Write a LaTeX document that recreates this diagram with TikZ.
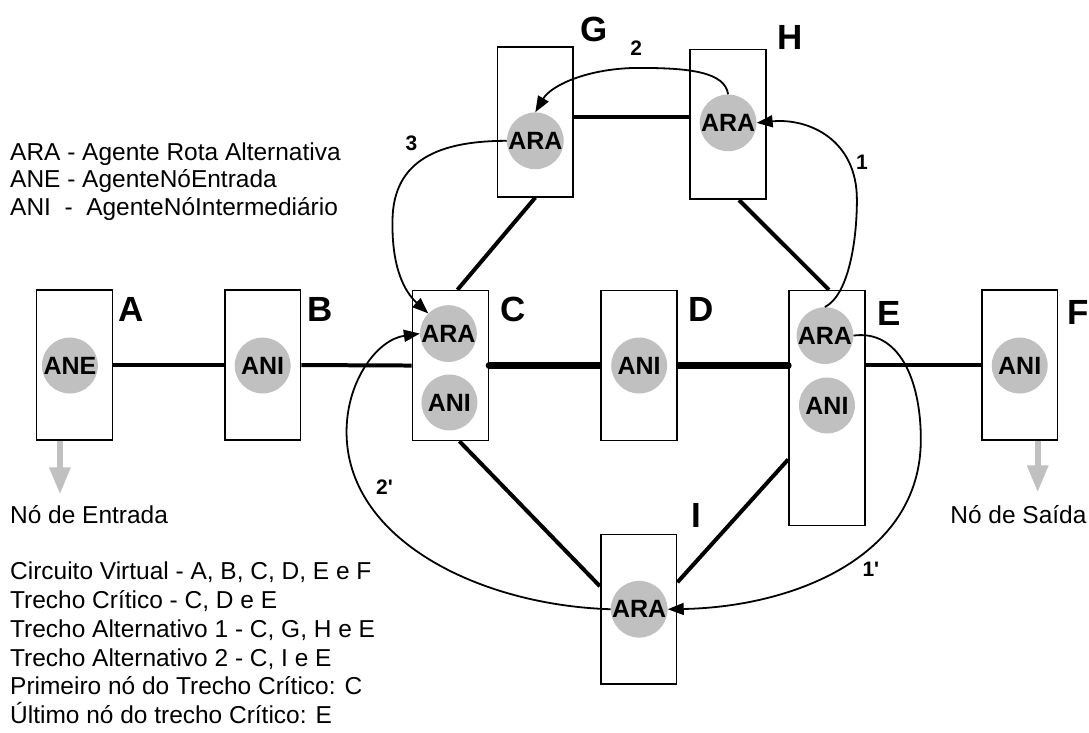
\documentclass[tikz,border=0pt]{standalone}
\usepackage{fontspec}
\setmainfont{Liberation Sans}
\usetikzlibrary{positioning,arrows.meta}
\definecolor{agentgray}{RGB}{192,192,192}

\begin{document}
\begin{tikzpicture}[x=1pt, y=-1pt,
  nodebox/.style={draw, line width=1.6pt, fill=white, minimum width=76pt, minimum height=150pt, inner sep=0pt},
  agent/.style={circle, fill=agentgray, minimum size=56pt, inner sep=0pt, font=\bfseries\fontsize{25}{25}\selectfont},
  letter/.style={font=\bfseries\fontsize{35}{35}\selectfont, inner sep=0pt, anchor=north west},
  link/.style={line width=4pt},
  critical/.style={line width=7pt, line cap=round},
  msg/.style={-{Triangle[length=16pt,width=12pt]}, line width=1.8pt},
  stepnum/.style={font=\bfseries\fontsize{21}{21}\selectfont, inner sep=0pt},
  note/.style={font=\fontsize{24.5}{28.5}\selectfont, inner sep=0pt, anchor=base west},
  exit/.style={-{Triangle[length=27pt,width=20pt]}, line width=6pt, draw=agentgray}
]
\fill[white] (0,0) rectangle (1089,733);

% routers of the virtual circuit
\node[nodebox] (A) at (74.5,365.5) {};
\node[nodebox] (B) at (263,365.5) {};
\node[nodebox] (C) at (451,366) {};
\node[nodebox, minimum height=235pt] (E) at (828,408.5) {};
\node[nodebox] (F) at (1021,365.5) {};
% routers of the alternative routes
\node[nodebox] (G) at (536,122) {};
\node[nodebox] (H) at (729,124.5) {};
\node[nodebox] (I) at (639.5,610) {};

% links
\draw[link] (A.east) -- (B.west);
\draw[link] (B.east) -- (C.west);
\draw[link] (E.east |- F.west) -- (F.west);
\draw[link] ([yshift=5pt]G.east) -- ([yshift=5pt]G.east -| H.west);
\draw[link] (G.south) -- ([xshift=7pt]C.north);
\draw[link] ([xshift=11pt]H.south) -- ([xshift=2pt]E.north);
\draw[link] ([xshift=9pt]C.south) -- ([yshift=23pt]I.west);
\draw[link] ([yshift=-51.5pt]E.west) -- ([yshift=27pt]I.east);
% critical stretch C - D - E
\draw[critical] (C.east) -- (C.east -| E.west);
\node[nodebox] (D) at (640,366) {};

% agents
\node[agent] (aneA) at (70,366) {ANE};
\node[agent] (aniB) at (263,366) {ANI};
\node[agent] (araC) at (449,334) {ARA};
\node[agent] (aniC) at (450,403) {ANI};
\node[agent] (aniD) at (640,366) {ANI};
\node[agent] (araE) at (826,336) {ARA};
\node[agent] (aniE) at (828,406) {ANI};
\node[agent] (aniF) at (1021,366) {ANI};
\node[agent] (araG) at (536,141) {ARA};
\node[agent] (araH) at (729,123) {ARA};
\node[agent] (araI) at (640,610) {ARA};

% router names
\node[right=5pt of A.north east, letter, yshift=-8pt] (labA) {A};
\node[right=6pt of B.north east, letter, yshift=-8pt] (labB) {B};
\node[right=11pt of C.north east, letter, yshift=-7pt] (labC) {C};
\node[right=10pt of D.north east, letter, yshift=-7pt] (labD) {D};
\node[right=12pt of E.north east, letter, yshift=-11pt] (labE) {E};
\node[right=9pt of F.north east, letter, yshift=-11pt] (labF) {F};
\node[right=6pt of G.north east, letter, anchor=south west, yshift=4pt] (labG) {G};
\node[right=10pt of H.north east, letter, anchor=south west, yshift=-1pt] (labH) {H};
\node[right=14pt of I.north east, letter, anchor=south west, yshift=6pt] (labI) {I};

% messages between the ARA agents
\draw[msg] (araE.north) .. controls (850,295) and (858,240) .. (858,200) .. controls (858,140) and (810,118) .. (araH.east);
\draw[msg] (araH.north) .. controls (726,72) and (690,68) .. (640,68) .. controls (590,68) and (552,85) .. (araG.north);
\draw[msg] (araG.west) .. controls (440,141) and (394,160) .. (393,220) .. controls (392,268) and (405,292) .. (araC.north west);
\draw[msg] (araE.east) .. controls (900,330) and (922,380) .. (922,440) .. controls (922,560) and (790,608) .. (araI.east);
\draw[msg] (araI.west) .. controls (480,606) and (345,540) .. (347,430) .. controls (348,380) and (378,340) .. (araC.west);
\node[stepnum] (n1) at (863,162) {1};
\node[stepnum] (n2) at (637,48) {2};
\node[stepnum] (n3) at (412,143) {3};
\node[stepnum] (n1b) at (872,570) {1\textquotesingle};
\node[stepnum] (n2b) at (385,488) {2\textquotesingle};

% entry and exit nodes
\coordinate (inTip) at (60,495);
\coordinate (outTip) at (1039,493);
\draw[exit] (A.south -| inTip) -- (inTip);
\draw[exit] (F.south -| outTip) -- (outTip);
\node[note] (inLabel) at (10,524) {Nó de Entrada};
\node[note, anchor=base east] (outLabel) at (1088,524) {Nó de Saída};

% legend
\foreach \txt [count=\k] in {ARA - Agente Rota Alternativa, ANE - AgenteNóEntrada, ANI\ \ -\ \ AgenteNóIntermediário}
  \node[note] (legend\k) at (10,{160.5+27.5*(\k-1)}) {\txt};

% route summary
\foreach \txt [count=\k] in {{Circuito Virtual - A, B, C, D, E e F}, {Trecho Crítico - C, D e E}, {Trecho Alternativo 1 - C, G, H e E}, {Trecho Alternativo 2 - C, I e E}, {Primeiro nó do Trecho Crítico: C}, {Último nó do trecho Crítico: E}}
  \node[note] (route\k) at (10,{580.5+28.8*(\k-1)}) {\txt};

\end{tikzpicture}
\end{document}
